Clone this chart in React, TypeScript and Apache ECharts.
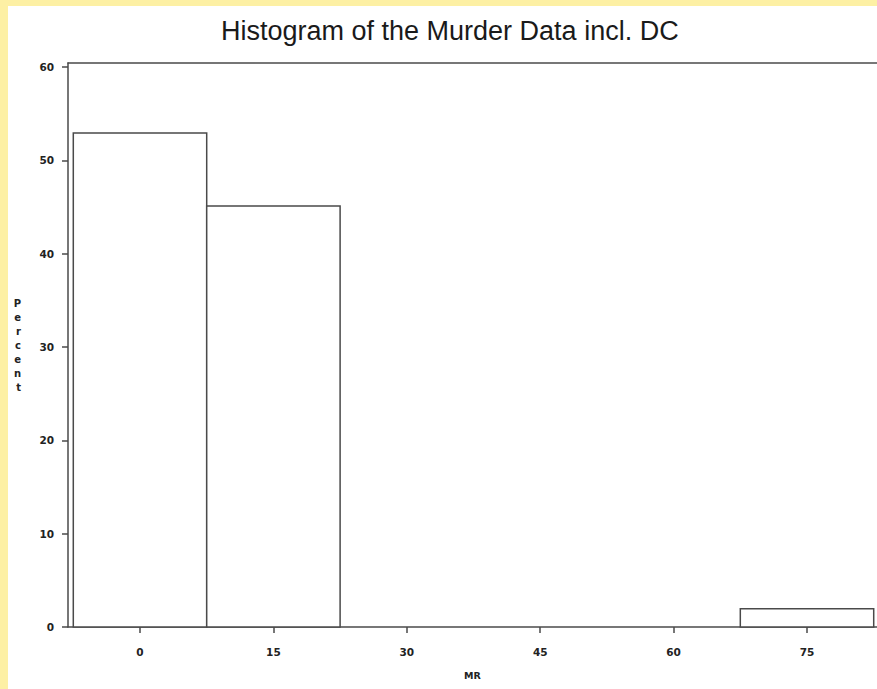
import React, { useEffect, useRef } from "react";
import * as echarts from "echarts";

const binStarts = [-7.5, 7.5, 67.5];
const binEnds = [7.5, 22.5, 82.5];
const percents = [52.94, 45.1, 1.96];
const xTicks = [0, 15, 30, 45, 60, 75];
const yTicks = [0, 10, 20, 30, 40, 50, 60];
const titleText = "Histogram of the Murder Data incl. DC";
const xName = "MR";
const yName = "Percent";

export default function App() {
  const ref = useRef<HTMLDivElement>(null);
  useEffect(() => {
    const chart = echarts.init(ref.current!, null, { renderer: "svg" });
    const line = "#4a4a4a";
    const labelStyle = {
      fontFamily: "DejaVu Sans",
      fontWeight: "bold" as const,
      fontSize: 10.5,
      color: "#222",
    };
    chart.setOption({
      animation: false,
      backgroundColor: "#ffffff",
      title: {
        text: titleText,
        left: 216,
        top: 12,
        textStyle: {
          fontFamily: "Liberation Sans",
          fontWeight: "normal",
          fontSize: 27,
          color: "#1a1a1a",
        },
      },
      graphic: [
        { type: "rect", shape: { x: 0, y: 0, width: 877, height: 6 }, style: { fill: "#fdf0a4" }, silent: true },
        { type: "rect", shape: { x: 0, y: 0, width: 8, height: 689 }, style: { fill: "#fdf0a4" }, silent: true },
      ],
      grid: {
        left: 68,
        top: 63,
        right: 0,
        bottom: 62,
        show: false,
      },
      xAxis: [
        {
          type: "value",
          min: -8.096,
          max: 82.87,
          axisLine: { show: true, onZero: false, lineStyle: { color: line, width: 1.5 } },
          axisTick: { show: true, customValues: xTicks, length: 6, lineStyle: { color: line, width: 1.5 } },
          axisLabel: { customValues: xTicks, margin: 19, ...labelStyle },
          splitLine: { show: false },
          name: xName,
          nameLocation: "middle",
          nameGap: 43,
          nameTextStyle: { ...labelStyle, fontSize: 9.5 },
        },
        {
          type: "value",
          position: "top",
          min: -8.096,
          max: 82.87,
          axisLine: { show: true, onZero: false, lineStyle: { color: line, width: 1.5 } },
          axisTick: { show: false },
          axisLabel: { show: false },
          splitLine: { show: false },
        },
      ],
      yAxis: {
        type: "value",
        min: 0,
        max: 60.43,
        axisLine: { show: true, onZero: false, lineStyle: { color: line, width: 1.5 } },
        axisTick: { show: true, customValues: yTicks, length: 6, lineStyle: { color: line, width: 1.5 } },
        axisLabel: { customValues: yTicks, margin: 14, ...labelStyle },
        splitLine: { show: false },
        name: yName.split("").join("\n"),
        nameLocation: "middle",
        nameRotate: 0,
        nameGap: 47,
        nameTextStyle: { ...labelStyle, fontSize: 10, lineHeight: 14 },
      },
      series: [
        {
          type: "custom",
          xAxisIndex: 0,
          encode: { x: [0, 1], y: 2 },
          data: binStarts.map((s, i) => [s, binEnds[i], percents[i]]),
          renderItem: (params: any, api: any) => {
            const a = api.coord([api.value(0), 0]);
            const b = api.coord([api.value(1), api.value(2)]);
            return {
              type: "rect",
              shape: { x: a[0], y: b[1], width: b[0] - a[0], height: a[1] - b[1] },
              style: { fill: "#ffffff", stroke: line, lineWidth: 1.5 },
            };
          },
        },
      ],
    });
    return () => chart.dispose();
  }, []);
  return (
    <div
      ref={ref}
      style={{ position: "fixed", left: 0, top: 0, width: 877, height: 689 }}
    />
  );
}
